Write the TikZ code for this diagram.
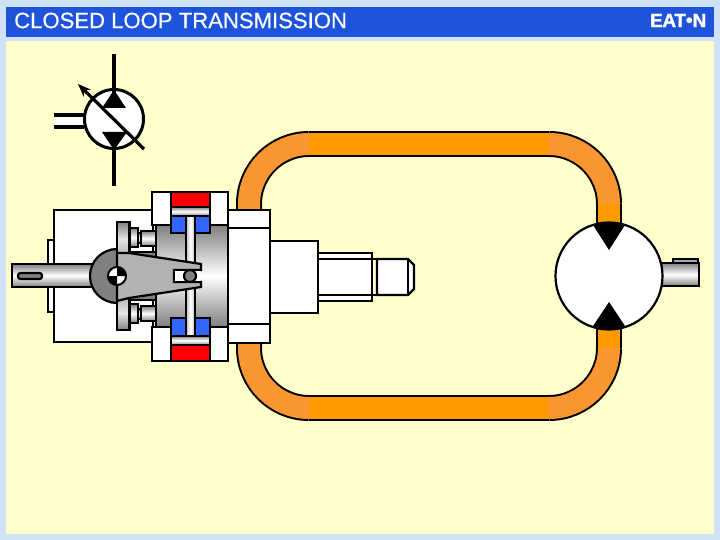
\documentclass[tikz,border=0pt]{standalone}
\usepackage{fontspec}
\setmainfont{Liberation Sans}
\usetikzlibrary{arrows.meta}
\definecolor{bordercol}{RGB}{208,226,246}
\definecolor{paper}{RGB}{255,255,204}
\definecolor{headblue}{RGB}{30,84,220}
\definecolor{tubearc}{RGB}{250,150,50}
\definecolor{tubestraight}{RGB}{255,153,0}
\definecolor{redpart}{RGB}{255,0,0}
\definecolor{bluepart}{RGB}{51,102,255}
\definecolor{midgray}{RGB}{128,128,128}
\definecolor{armgray}{RGB}{178,178,178}
\definecolor{rodgray}{RGB}{190,190,190}
\tikzset{
  part/.style={draw=black,line width=2.2pt,line join=miter},
  whitepart/.style={part,fill=white},
  hshade/.style={part,top color=midgray,bottom color=midgray,middle color=white},
  vshade/.style={draw=black,line width=1.2pt,left color=rodgray,right color=rodgray,middle color=white},
  hshadetop/.style={part,top color=midgray,bottom color=armgray,middle color=white!90!black},
  hshadebot/.style={part,top color=armgray,bottom color=midgray,middle color=white!90!black},
  tubeedge/.style={line width=26pt,black},
  tubearcfill/.style={line width=22pt,tubearc},
  tubestr/.style={line width=22pt,tubestraight},
  symline/.style={black,line width=3.2pt},
}
\begin{document}
\begin{tikzpicture}[x=1pt,y=-1pt]
\useasboundingbox (0,0) rectangle (720,540);
% page
\fill[bordercol] (0,0) rectangle (720,540);
\fill[paper] (6,41) rectangle (714,534);
\fill[headblue] (6,7) rectangle (714,37);
\node[anchor=west,text=white,inner sep=0pt,font=\fontsize{22.1}{24}\selectfont] (title) at (14,20.5) {\addfontfeature{FakeBold=0.4}CLOSED LOOP TRANSMISSION};
\node[anchor=east,text=white,inner sep=0pt,font=\fontsize{19}{20}\selectfont\bfseries] (logo) at (706.5,20.5) {\addfontfeature{LetterSpace=-2,FakeBold=1.5}EAT\raisebox{0.5pt}{•}N};
% tubes: black edge then fill
\foreach \st/\ct in {tubeedge/tubeedge,tubestr/tubearcfill}{
  \draw[\ct] (249,214) -- (249,204) .. controls (249,170.9) and (275.9,144) .. (309,144);
  \draw[\st] (309,144) -- (549,144);
  \draw[\ct] (549,144) .. controls (582.1,144) and (609,170.9) .. (609,204);
  \draw[\st] (609,204) -- (609,226);
  \draw[\st] (609,326) -- (609,348);
  \draw[\ct] (609,348) .. controls (609,381.1) and (582.1,408) .. (549,408);
  \draw[\st] (549,408) -- (309,408);
  \draw[\ct] (309,408) .. controls (275.9,408) and (249,381.1) .. (249,348) -- (249,338);
}
% left housing and plate
\draw[whitepart] (48,240) rectangle (54,312);
\draw[whitepart] (54,210) rectangle (153,342);
% right housing parts
\draw[whitepart] (228,210) rectangle (270,343);
\draw[part] (228,228) -- (270,228);
\draw[part] (228,324) -- (270,324);
\draw[whitepart] (270,241) rectangle (318,313);
\draw[whitepart] (318,253) rectangle (372,301);
\draw[part] (318,259) -- (372,259);
\draw[part] (318,295) -- (372,295);
\draw[whitepart] (377,259) -- (408,259) -- (414,265) -- (414,289) -- (408,295) -- (377,295) -- cycle;
\draw[part] (372,259) -- (377,259);
\draw[part] (372,295) -- (377,295);
\draw[part] (408,259) -- (408,295);
% pump block
\draw[whitepart] (152,192) rectangle (228,225);
\draw[whitepart] (152,327) rectangle (228,361);
\draw[hshade] (156,225) rectangle (228,327);
% pistons
\draw[part,fill=redpart] (171,192) rectangle (210,207);
\draw[part,fill=redpart] (171,345) rectangle (210,361);
\draw[part,fill=bluepart] (171,215) rectangle (210,233);
\draw[part,fill=bluepart] (171,318) rectangle (210,336);
\draw[hshade] (171,207) rectangle (210,216);
\draw[hshade] (171,336) rectangle (210,345);
\draw[vshade] (186,216) rectangle (195,268);
\draw[vshade] (186,284) rectangle (195,336);
% slipper stubs
\draw[part,fill=midgray] (131,252) rectangle (156,262);
\draw[part,fill=midgray] (131,290) rectangle (156,300);
\draw[hshade] (129,228) rectangle (138,247);
\draw[hshade] (138,233) rectangle (141,243);
\draw[hshade] (141,231) rectangle (156,246);
\draw[hshade] (129,304) rectangle (138,323);
\draw[hshade] (138,309) rectangle (141,319);
\draw[hshade] (141,306) rectangle (156,321);
% input shaft
\draw[hshade] (12,264) rectangle (96,287);
\draw[part,fill=midgray,rounded corners=2.5pt] (18,273) rectangle (42,279);
% half disc
\begin{scope}
  \clip (80,240) rectangle (117,312);
  \draw[part,fill=midgray] (117,276) circle[radius=27];
\end{scope}
% swash plate flanges
\draw[hshadetop] (117,222) rectangle (129.5,256);
\draw[hshadebot] (117,296) rectangle (129.5,330);
% swash arm
\draw[part,fill=armgray] (117,253) -- (129,253) -- (201,264) -- (201,270) -- (174,270) -- (174,282) -- (201,282) -- (201,287) -- (129,298) -- (117,301) -- cycle;
\fill[white] (175,271) rectangle (200,281);
\draw[line width=1.5pt] (174,270) -- (200,270);
\draw[line width=1.5pt] (174,282) -- (200,282);
% slider ball
\draw[part,fill=midgray] (190,276) circle[radius=6];
% pivot
\fill[white] (117,276) circle[radius=9];
\fill[black] (117,276) -- (117,267) arc[start angle=270,end angle=360,radius=9] -- cycle;
\fill[black] (117,276) -- (117,285) arc[start angle=90,end angle=180,radius=9] -- cycle;
\draw[line width=2pt] (117,276) circle[radius=9];
% motor
\draw[hshade] (660,263) rectangle (699,286);
\draw[part,fill=midgray!70] (673,259) rectangle (698,263);
\draw[part,fill=white] (609,276) circle[radius=53.5];
\begin{scope}
  \clip (609,276) circle[radius=53.5];
  \fill[black] (593,215) -- (593,225) -- (609,250) -- (625,225) -- (625,215) -- cycle;
  \fill[black] (593,337) -- (593,326) -- (609,302) -- (625,326) -- (625,337) -- cycle;
\end{scope}
% symbol
\draw[symline] (54,115) -- (84,115);
\draw[symline] (54,127) -- (84,127);
\fill[white] (54,116.6) rectangle (86,125.4);
\draw[black,line width=3pt,fill=white] (114,119) circle[radius=29.5];
\draw[symline] (114,54) -- (114,95);
\draw[symline] (114,145) -- (114,186);
\fill[black] (114,90) -- (126,108) -- (102,108) -- cycle;
\fill[black] (114,150) -- (127,132) -- (102,132) -- cycle;
\draw[symline,-{Stealth[length=13pt,width=10pt]}] (144,149) -- (78,84);
\end{tikzpicture}
\end{document}
